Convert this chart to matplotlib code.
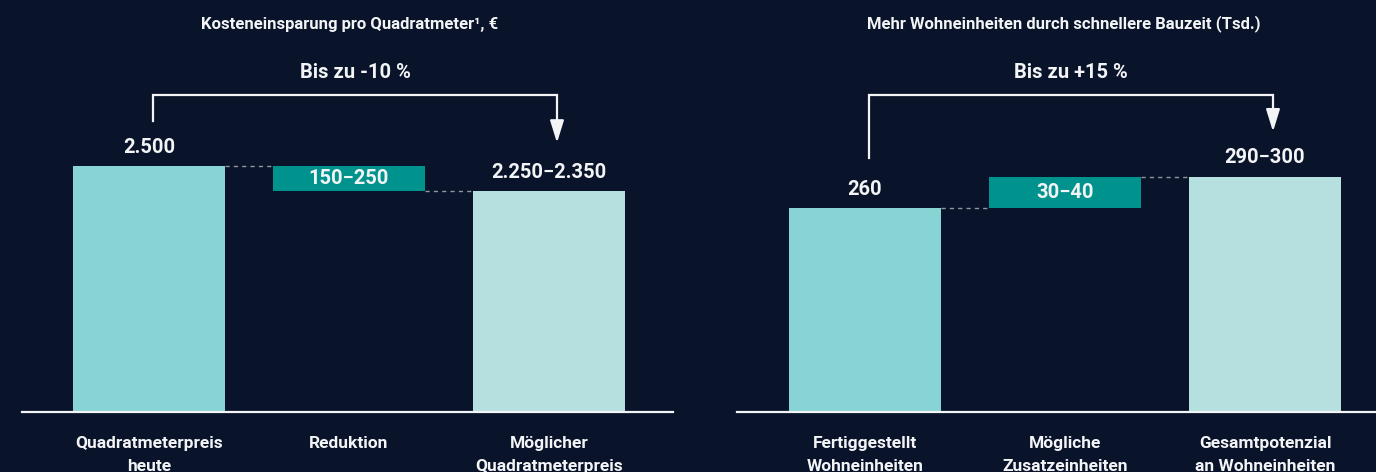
import matplotlib
matplotlib.use("Agg")
import matplotlib.pyplot as plt
from matplotlib.transforms import blended_transform_factory

# ---- data ----
left_title = "Kosteneinsparung pro Quadratmeter\u00b9, \u20ac"
left_categories = ["Quadratmeterpreis\nheute", "Reduktion", "M\u00f6glicher\nQuadratmeterpreis"]
left_start = 2500
left_step = 250          # reduction (upper end of 150-250)
left_end = 2250
left_labels = ["2.500", "150\u2212250", "2.250\u22122.350"]
left_bracket = "Bis zu -10 %"

right_title = "Mehr Wohneinheiten durch schnellere Bauzeit (Tsd.)"
right_categories = ["Fertiggestellt\nWohneinheiten", "M\u00f6gliche\nZusatzeinheiten", "Gesamtpotenzial\nan Wohneinheiten"]
right_start = 260
right_step = 40
right_end = 300
right_labels = ["260", "30\u221240", "290\u2212300"]
right_bracket = "Bis zu +15 %"

BG = "#09132a"
C_START = "#88d3d4"
C_STEP = "#00928c"
C_END = "#b6e0e0"
WHITE = "#f2f4f6"
DASH = "#8e96a0"

plt.rcParams["font.family"] = ["Roboto", "DejaVu Sans"]

W, H = 1376, 472
BASE_PX = 412  # baseline from top, pixels

fig = plt.figure(figsize=(W / 100, H / 100), dpi=100, facecolor=BG)


def draw_panel(rect, xlim, ymax, title, title_x, cats, start, step, end, labels,
               bracket, gap_start, gap_end, decreasing):
    ax = fig.add_axes(rect)
    ax.set_facecolor(BG)
    ax.set_xlim(*xlim)
    ax.set_ylim(0, ymax)
    u = ymax / BASE_PX  # data units per pixel
    w = 0.76

    x = [0, 1, 2]
    step_bottom = start - step if decreasing else start
    ax.bar(x[0], start, width=w, color=C_START, zorder=2)
    ax.bar(x[1], step, bottom=step_bottom, width=w, color=C_STEP, zorder=2)
    ax.bar(x[2], end, width=w, color=C_END, zorder=2)

    # dashed connectors
    ax.plot([x[0] + w / 2, x[1] - w / 2], [start, start], color=DASH, lw=1, ls=(0, (3, 3)))
    ax.plot([x[1] + w / 2, x[2] - w / 2], [end, end], color=DASH, lw=1, ls=(0, (3, 3)))

    # value labels
    ax.annotate(labels[0], (x[0], start), xytext=(0, 13.5), textcoords="offset points",
                ha="center", va="center", color=WHITE, fontsize=14.5, fontweight="bold")
    ax.annotate(labels[2], (x[2], end), xytext=(0, 13.5), textcoords="offset points",
                ha="center", va="center", color=WHITE, fontsize=14.5, fontweight="bold")
    ax.text(x[1], step_bottom + step / 2, labels[1], ha="center", va="center",
            color=WHITE, fontsize=14.5, fontweight="bold")

    # category labels
    for xi, c in zip(x, cats):
        ax.annotate(c, (xi, 0), xytext=(0, -17), textcoords="offset points",
                    ha="center", va="top", color=WHITE, fontsize=12.5,
                    fontweight="bold", linespacing=1.7, annotation_clip=False)

    # bracket
    bx0 = x[0] + 0.02
    bx1 = x[2] + 0.04
    ytop = (BASE_PX - 95) * u
    y0 = start + gap_start * u
    y1 = end + gap_end * u
    ax.plot([bx0, bx0, bx1, bx1], [y0, ytop, ytop, y1 + 18 * u], color=WHITE, lw=1.6,
            solid_joinstyle="miter", clip_on=False)
    ax.annotate("", xy=(bx1, y1), xytext=(bx1, y1 + 19 * u),
                arrowprops=dict(arrowstyle="-|>,head_length=1.35,head_width=0.42",
                                mutation_scale=10, color=WHITE, lw=1.6,
                                shrinkA=0, shrinkB=0))
    trans = blended_transform_factory(ax.transData, ax.transAxes)
    ax.text((bx0 + bx1) / 2, (BASE_PX - 73) / BASE_PX, bracket, transform=trans,
            ha="center", va="center", color=WHITE, fontsize=14.5, fontweight="bold")

    fig.text(title_x / W, 1 - 24 / H, title, ha="center", va="center",
             color=WHITE, fontsize=12, fontweight="bold")

    for s in ["top", "left", "right"]:
        ax.spines[s].set_visible(False)
    ax.spines["bottom"].set_color(WHITE)
    ax.spines["bottom"].set_linewidth(1.6)
    ax.spines["bottom"].set_zorder(3)
    ax.set_xticks([])
    ax.set_yticks([])
    return ax


draw_panel([22 / W, (H - BASE_PX) / H, 651 / W, BASE_PX / H], (-0.635, 2.62), 4190,
           left_title, 350, left_categories, left_start, left_step, left_end, left_labels,
           left_bracket, 45, 48, True)
draw_panel([737 / W, (H - BASE_PX) / H, 639 / W, BASE_PX / H], (-0.64, 2.555), 525,
           right_title, 1064, right_categories, right_start, right_step, right_end, right_labels,
           right_bracket, 50, 45, False)

fig.savefig("out.png", dpi=100, facecolor=BG)
